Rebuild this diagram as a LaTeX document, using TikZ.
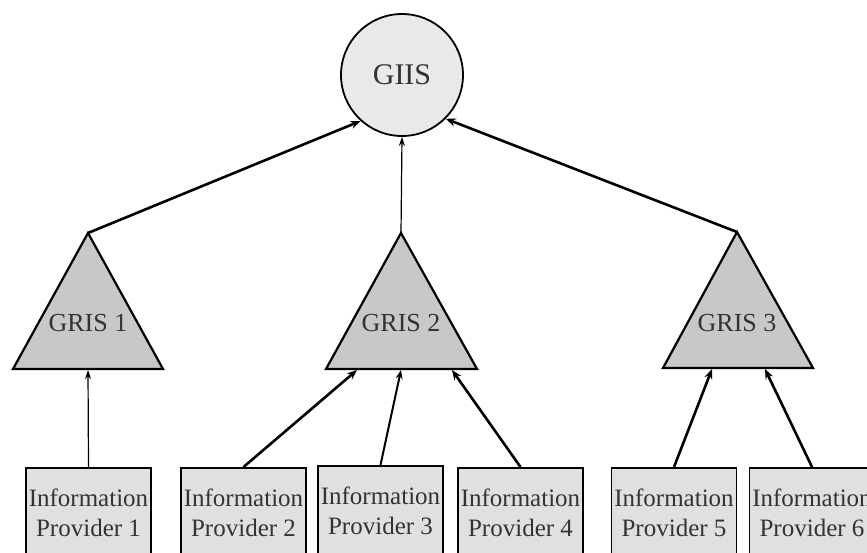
\documentclass[tikz,border=0pt]{standalone}
\usepackage{fontspec}
\setmainfont{Liberation Serif}
\usetikzlibrary{arrows.meta}
\definecolor{txt}{HTML}{333333}
\definecolor{hubfill}{HTML}{E9E9EB}
\definecolor{grisfill}{HTML}{C8C8CA}
\definecolor{provfill}{HTML}{E0E0E2}
\newcommand{\provlabel}[1]{\fontsize{25}{30}\selectfont Information\\Provider #1}
\begin{document}
\begin{tikzpicture}[x=1pt,y=-1pt,
  hub/.style={circle, draw=black, line width=1.8pt, fill=hubfill, minimum size=122pt,
    inner sep=0pt, text=txt},
  grisshape/.style={draw=black, line width=2.2pt, fill=grisfill},
  grislabel/.style={inner sep=0pt, text=txt},
  provider/.style={draw=black, line width=1.8pt, fill=provfill, anchor=north,
    minimum width=125pt, minimum height=90pt, inner sep=0pt, align=center,
    text=txt, font=\fontsize{25}{30}\selectfont},
  thinarrow/.style={line width=1.2pt, -{Stealth[length=9pt,width=6pt]}},
  midarrow/.style={line width=2pt, -{Stealth[length=9pt,width=7pt]}},
  thickarrow/.style={line width=2.6pt, -{Stealth[length=10pt,width=8pt]}}]
\useasboundingbox (0,0) rectangle (867,552);
\clip (0,0) rectangle (867,552);

% top-level index service
\node[hub] (giis) at (402,75) {\fontsize{30}{34}\selectfont GIIS};

% regional index services (triangles)
\coordinate (g1top) at (88,233);
\coordinate (g1l) at (13,369);
\coordinate (g1r) at (163,369);
\filldraw[grisshape] (g1top) -- (g1r) -- (g1l) -- cycle;
\node[grislabel] (g1) at (88,323) {\fontsize{26}{30}\selectfont GRIS 1};

\coordinate (g2top) at (401,233);
\coordinate (g2l) at (326,369);
\coordinate (g2r) at (477,369);
\filldraw[grisshape] (g2top) -- (g2r) -- (g2l) -- cycle;
\node[grislabel] (g2) at (401,323) {\fontsize{26}{30}\selectfont GRIS 2};

\coordinate (g3top) at (737,232);
\coordinate (g3l) at (663,368);
\coordinate (g3r) at (813,368);
\filldraw[grisshape] (g3top) -- (g3r) -- (g3l) -- cycle;
\node[grislabel] (g3) at (737,323) {\fontsize{26}{30}\selectfont GRIS 3};

% arrow targets on the triangle bases
\coordinate (g1in) at (88,370);
\coordinate (g2inA) at (357,370);
\coordinate (g2inB) at (401,370);
\coordinate (g2inC) at (452,370);
\coordinate (g3inA) at (712,369);
\coordinate (g3inB) at (765,369);

% information providers
\node[provider] (p1) at (88.5,467) {\provlabel{1}};
\node[provider] (p2) at (243.5,467) {\provlabel{2}};
\node[provider] (p3) at (380.5,465) {\provlabel{3}};
\node[provider] (p4) at (520.5,467) {\provlabel{4}};
\node[provider] (p5) at (674,467) {\provlabel{5}};
\node[provider] (p6) at (812,467) {\provlabel{6}};

% registrations up to the index
\draw[thickarrow] (g1top) -- (giis.228);
\draw[thinarrow] (g2top) -- (giis.south);
\draw[thickarrow] (g3top) -- (giis.315);

\draw[thinarrow] (p1.north) -- (g1in);
\draw[thickarrow] (p2.north) -- (g2inA);
\draw[midarrow] (p3.north) -- (g2inB);
\draw[thickarrow] (p4.north) -- (g2inC);
\draw[thickarrow] (p5.north) -- (g3inA);
\draw[thickarrow] (p6.north) -- (g3inB);
\end{tikzpicture}
\end{document}
